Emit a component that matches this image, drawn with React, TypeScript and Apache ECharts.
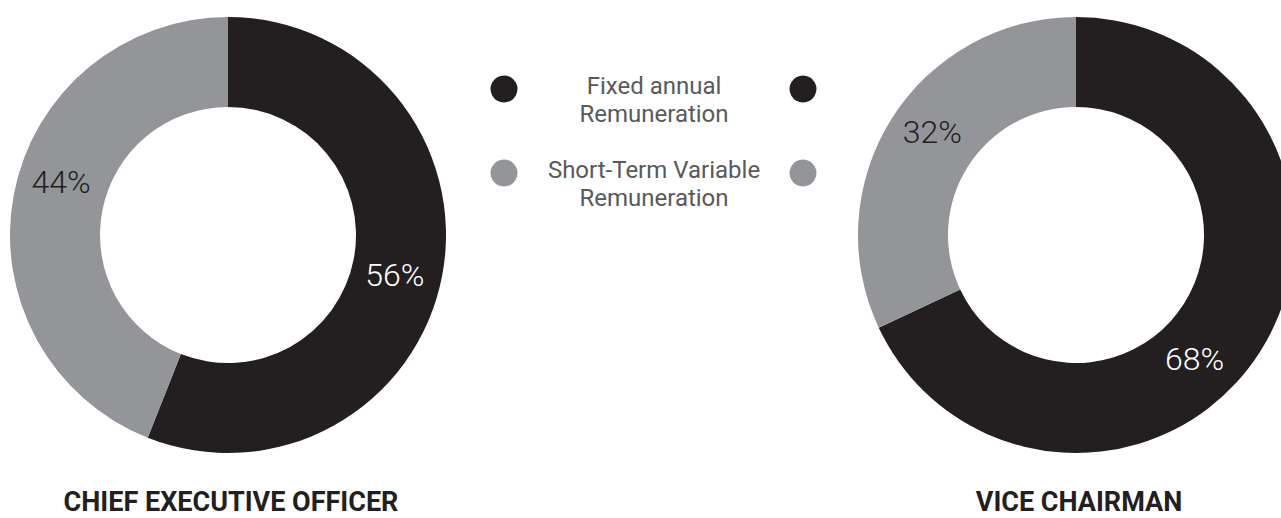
import React, { useEffect, useRef } from "react";
import * as echarts from "echarts";

const categories = ["Fixed annual Remuneration", "Short-Term Variable Remuneration"];
const legendLines = [
  ["Fixed annual", "Remuneration"],
  ["Short-Term Variable", "Remuneration"],
];
const roles = ["CHIEF EXECUTIVE OFFICER", "VICE CHAIRMAN"];
const ceoValues = [56, 44];
const viceValues = [68, 32];

const colors = ["#231f20", "#939598"];
const labelColors = ["#ffffff", "#231f20"];
const centersX = [228, 1076];
const labelOffsets = [
  [[-6, 7], [6, -20]],
  [[-30, 30], [5, -9]],
];

export default function App() {
  const ref = useRef<HTMLDivElement>(null);
  useEffect(() => {
    document.body.style.margin = "0";
    const chart = echarts.init(ref.current!, undefined, { renderer: "svg" });
    const seriesValues = [ceoValues, viceValues];
    const series = seriesValues.map((vals, si) => ({
      type: "pie",
      name: roles[si],
      center: [centersX[si], 235],
      radius: [128, 218],
      startAngle: 90,
      clockwise: true,
      silent: true,
      data: vals.map((v, i) => ({
        name: categories[i],
        value: v,
        itemStyle: { color: colors[i] },
        label: { color: labelColors[i] },
      })),
      label: {
        show: true,
        position: "inside",
        formatter: "{c}%",
        fontFamily: "Roboto",
        fontWeight: 300,
        fontSize: 32,
      },
      labelLine: { show: false },
      labelLayout: (p: any) => ({
        dx: labelOffsets[si][p.dataIndex][0],
        dy: labelOffsets[si][p.dataIndex][1],
      }),
    }));

    const graphic: any[] = [];
    legendLines.forEach((lines, i) => {
      const cy = 89 + i * 84;
      [504, 803].forEach((cx) => {
        graphic.push({
          type: "circle",
          shape: { cx, cy, r: 13.5 },
          style: { fill: colors[i] },
        });
      });
      graphic.push({
        type: "text",
        x: 654,
        y: cy - 17,
        style: {
          text: lines.join("\n"),
          fontFamily: "Roboto",
          fontSize: 24,
          lineHeight: 28,
          fill: "#58595b",
          align: "center",
          verticalAlign: "top",
        },
      });
    });

    chart.setOption({
      animation: false,
      title: roles.map((r, i) => ({
        text: r,
        left: centersX[i] + 3,
        top: 492,
        padding: 0,
        textAlign: "center",
        textStyle: {
          fontFamily: "Roboto",
          fontWeight: "bold",
          fontSize: 27,
          lineHeight: 20,
          color: "#231f20",
        },
      })),
      series,
      graphic,
    });
    return () => chart.dispose();
  }, []);
  return <div ref={ref} style={{ width: 1281, height: 518 }} />;
}
